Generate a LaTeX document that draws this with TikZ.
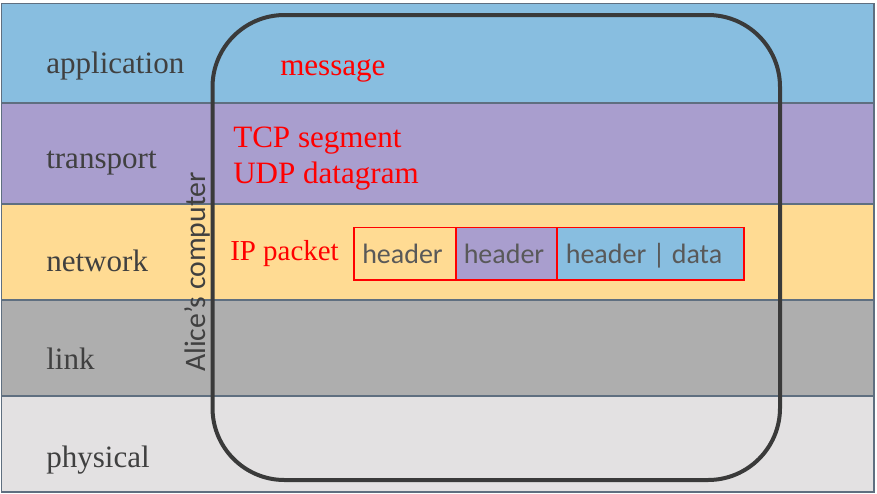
\documentclass[tikz,border=0pt]{standalone}
\usepackage{fontspec}
\setmainfont{Liberation Serif}
\newfontfamily\carfont{Carlito}
\definecolor{appC}{HTML}{88BEE0}
\definecolor{traC}{HTML}{A99ECE}
\definecolor{netC}{HTML}{FFDB93}
\definecolor{linC}{HTML}{AEAEAE}
\definecolor{phyC}{HTML}{E3E1E2}
\definecolor{edgeC}{HTML}{5F6F80}
\definecolor{txtC}{HTML}{404040}
\definecolor{hdrC}{HTML}{595959}
\definecolor{redC}{HTML}{FF0000}
\begin{document}
\begin{tikzpicture}[x=0.75pt,y=-0.75pt,
  layer/.style={draw=edgeC,line width=1pt},
  laylabel/.style={anchor=base west,inner sep=0pt,text=txtC,font=\fontsize{23.3}{28}\selectfont},
  redlabel/.style={anchor=base west,inner sep=0pt,text=redC,font=\fontsize{23.3}{28}\selectfont},
  pkt/.style={draw=redC,line width=1.2pt,minimum height=52.5*0.75pt,inner sep=0pt,text=hdrC,font=\carfont\fontsize{21}{25}\selectfont},
  pkttext/.style={anchor=base,inner sep=0pt,text=hdrC,font=\carfont\fontsize{21}{25}\selectfont},
]
\useasboundingbox (0,0) rectangle (877,493);
\fill[white] (0,0) rectangle (877,493);
\draw[layer,fill=appC] (1.5,3.5) rectangle (874,103);
\draw[layer,fill=traC] (1.5,103) rectangle (874,204);
\draw[layer,fill=netC] (1.5,204) rectangle (874,300);
\draw[layer,fill=linC] (1.5,300) rectangle (874,396);
\draw[layer,fill=phyC] (1.5,396) rectangle (874,492);

\node[laylabel] (app) at (46,73) {application};
\node[laylabel] (tra) at (46,168) {transport};
\node[laylabel] (net) at (46,271) {network};
\node[laylabel] (lin) at (46,369) {link};
\node[laylabel] (phy) at (46,467) {physical};

\draw[line width=3pt,draw=txtC!90!black,rounded corners=72*0.75pt] (212.5,15) rectangle (780,480);

\node[anchor=base,rotate=90,inner sep=0pt,text=txtC,font=\carfont\fontsize{22.3}{26}\selectfont] (alice) at (205,272) {Alice’s computer};

\node[redlabel] (msg) at (280,75) {message};
\node[redlabel] (tcp) at (233,147) {TCP segment};
\node[redlabel] (udp) at (233,183) {UDP datagram};
\node[redlabel,font=\fontsize{21.7}{26}\selectfont] (ip) at (230,260) {IP packet};

\node[pkt,fill=netC,minimum width=102*0.75pt,anchor=north west] (h1) at (353,226.7) {};
\node[pkt,fill=traC,minimum width=101*0.75pt,anchor=north west] (h2) at (455,226.7) {};
\node[pkt,fill=appC,minimum width=187*0.75pt,anchor=north west] (h3) at (556,226.7) {};
\node[pkttext] (t1) at (402.5,263) {header};
\node[pkttext] (t2) at (504,263) {header};
\node[pkttext] (t3) at (644,263) {header | data};
\end{tikzpicture}
\end{document}
